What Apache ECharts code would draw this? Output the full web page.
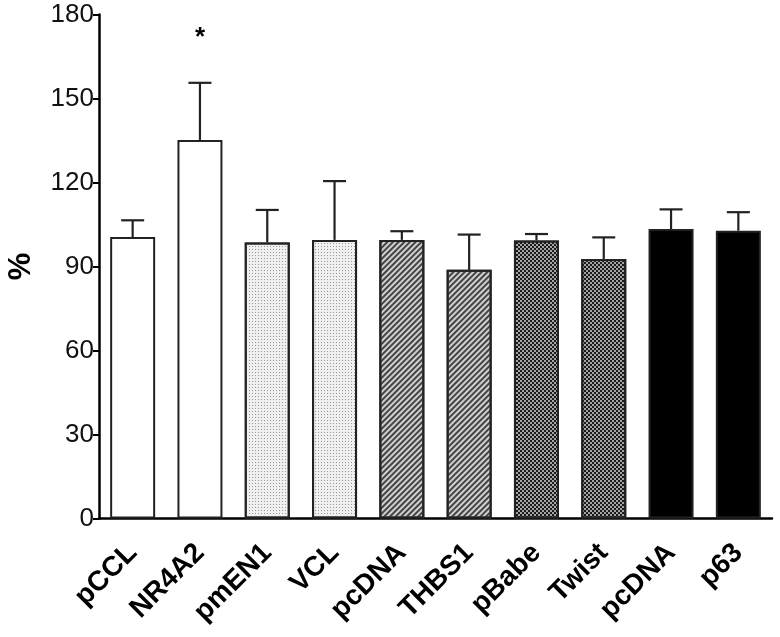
<!DOCTYPE html>
<html>
<head>
<meta charset="utf-8">
<script src="https://cdn.jsdelivr.net/npm/echarts@6/dist/echarts.min.js"></script>
<style>
html,body{margin:0;padding:0;background:#fff;}
#chart{width:780px;height:637px;}
</style>
</head>
<body>
<div id="chart"></div>
<script>
const categories = ['pCCL', 'NR4A2', 'pmEN1', 'VCL', 'pcDNA', 'THBS1', 'pBabe', 'Twist', 'pcDNA', 'p63'];
const means = [100.5, 135.2, 98.6, 99.5, 99.5, 88.8, 99.3, 92.7, 103.4, 102.8];
const upperErr = [6.0, 20.4, 11.6, 21.0, 3.1, 12.6, 2.3, 7.7, 7.0, 6.6];
const annotations = ['', '*', '', '', '', '', '', '', '', ''];
const yTicks = [0, 30, 60, 90, 120, 150, 180];
const fillStyle = ['white', 'white', 'dots', 'dots', 'hatch', 'hatch', 'checker', 'checker', 'black', 'black'];

const styles = {
  white: { color: '#ffffff' },
  dots: { color: '#f0f0f0', decal: { symbol: 'rect', symbolSize: 1, color: '#999999', dashArrayX: [1, 2], dashArrayY: [1, 2] } },
  hatch: { color: '#d0d0d0', decal: { symbol: 'rect', symbolSize: 1, color: '#444444', dashArrayX: [1, 0], dashArrayY: [1.2, 1.8], rotation: -Math.PI / 4 } },
  checker: { color: '#a4a4a4', decal: { symbol: 'rect', symbolSize: 1, color: '#1a1a1a', dashArrayX: [[1.5, 1.5], [0, 1.5, 1.5, 0]], dashArrayY: [1.5, 0] } },
  black: { color: '#000000' }
};

const barData = means.map((v, i) => ({
  value: v,
  itemStyle: Object.assign({ borderColor: '#222', borderWidth: 2 }, styles[fillStyle[i]])
}));

const chart = echarts.init(document.getElementById('chart'), null, { renderer: 'canvas' });
const FONT = 'Arial, "Liberation Sans", Helvetica, sans-serif';

chart.setOption({
  animation: false,
  backgroundColor: '#ffffff',
  grid: { left: 99, right: 8, top: 14.5, bottom: 118.5, containLabel: false, outerBoundsMode: 'none' },
  xAxis: {
    type: 'category',
    data: categories.map((c, i) => i),
    axisLine: { lineStyle: { color: '#000', width: 2.5 } },
    axisTick: { alignWithLabel: true, length: 7, lineStyle: { color: '#000', width: 2 } },
    axisLabel: {
      interval: 0,
      rotate: 45,
      margin: 30,
      formatter: (v) => categories[+v],
      fontFamily: FONT,
      fontWeight: 'bold',
      fontSize: 28,
      color: '#000'
    },
    splitLine: { show: false }
  },
  yAxis: {
    type: 'value',
    min: yTicks[0],
    max: yTicks[yTicks.length - 1],
    interval: yTicks[1] - yTicks[0],
    name: '%',
    nameLocation: 'middle',
    nameRotate: 90,
    nameGap: 62,
    nameTextStyle: { fontFamily: FONT, fontSize: 31, fontWeight: 'bold', color: '#000' },
    axisLine: { show: true, lineStyle: { color: '#000', width: 2.5 } },
    axisTick: { show: true, length: 6, lineStyle: { color: '#000', width: 2 } },
    axisLabel: { fontFamily: FONT, fontSize: 26, color: '#111', margin: 5 },
    splitLine: { show: false }
  },
  series: [
    {
      type: 'bar',
      data: barData,
      barWidth: 45,
      z: 2
    },
    {
      type: 'custom',
      z: 3,
      data: means.map((v, i) => [i, v, v + upperErr[i]]),
      renderItem: function (params, api) {
        const i = api.value(0);
        const p0 = api.coord([i, api.value(1)]);
        const p1 = api.coord([i, api.value(2)]);
        const half = 11.5;
        const st = { stroke: '#222', lineWidth: 2.2 };
        return {
          type: 'group',
          children: [
            { type: 'line', shape: { x1: p0[0], y1: p0[1], x2: p1[0], y2: p1[1] }, style: st },
            { type: 'line', shape: { x1: p1[0] - half, y1: p1[1], x2: p1[0] + half, y2: p1[1] }, style: st }
          ]
        };
      }
    },
    {
      type: 'custom',
      z: 4,
      data: annotations.map((a, i) => [i, means[i] + upperErr[i]]),
      renderItem: function (params, api) {
        const i = api.value(0);
        const txt = annotations[i];
        if (!txt) return null;
        const p = api.coord([i, api.value(1)]);
        return {
          type: 'text',
          style: {
            text: txt,
            x: p[0],
            y: p[1] - 45,
            align: 'center',
            verticalAlign: 'middle',
            font: 'bold 26px ' + FONT,
            fill: '#000'
          }
        };
      }
    }
  ]
});
</script>
</body>
</html>
